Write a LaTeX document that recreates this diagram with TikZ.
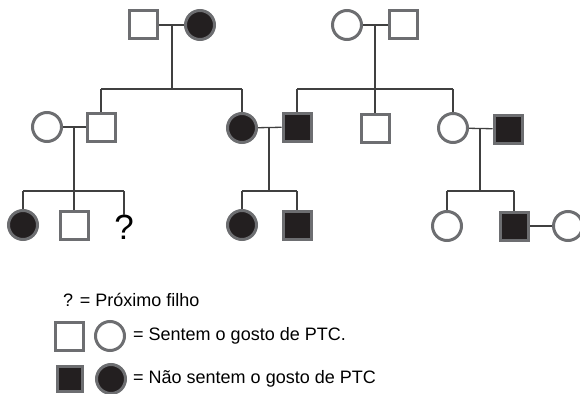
\documentclass[tikz,border=0pt]{standalone}
\usepackage{fontspec}
\setmainfont{Liberation Sans}
\definecolor{edge}{HTML}{6D6E71}
\definecolor{ink}{HTML}{231F20}
\definecolor{wire}{HTML}{404040}
\tikzset{
  male/.style={rectangle, draw=edge, line width=3pt, minimum size=28pt, inner sep=0pt, fill=white},
  female/.style={circle, draw=edge, line width=3pt, minimum size=29pt, inner sep=0pt, fill=white},
  aff/.style={fill=ink},
  wireline/.style={draw=wire, line width=1.3pt},
  lbl/.style={anchor=west, inner sep=0pt, font=\fontsize{18}{20}\selectfont}
}
\begin{document}
\begin{tikzpicture}[x=1pt,y=-1pt]
\useasboundingbox (0,0) rectangle (580,393);
% generation 1
\coordinate (m1) at (172,25);
\coordinate (s1) at (172,89);
\coordinate (m2) at (375,25);
\coordinate (s2) at (375,89);
% generation 2 couples
\coordinate (m3) at (74,127);
\coordinate (s3) at (74,191);
\coordinate (m4) at (269,127);
\coordinate (s4) at (269,191);
\coordinate (m5) at (480,128);
\coordinate (s5) at (480,191);
\coordinate (k1) at (101,89);
\coordinate (k2) at (242,89);
\coordinate (k3) at (297,89);
\coordinate (k4) at (453,89);
\coordinate (c1) at (23,191);
\coordinate (c3) at (124,191);
\coordinate (c4) at (242,191);
\coordinate (c5) at (297,191);
\coordinate (c6) at (447,191);
\coordinate (c7) at (514,191);

% connectors
\draw[wireline] (m1) -- (s1);
\draw[wireline] (k1) -- (k2);
\draw[wireline] (m2) -- (s2);
\draw[wireline] (k3) -- (k4);
\draw[wireline] (m3) -- (s3);
\draw[wireline] (c1) -- (c3);
\draw[wireline] (m4) -- (s4);
\draw[wireline] (c4) -- (c5);
\draw[wireline] (m5) -- (s5);
\draw[wireline] (c6) -- (c7);

% generation 1 nodes
\node[male] (a1) at (143,25) {};
\node[female,aff] (a2) at (200,25) {};
\node[female] (b1) at (347,25) {};
\node[male] (b2) at (403,25) {};
% generation 2
\node[female] (g1) at (47,127) {};
\node[male] (g2) at (101,127) {};
\node[female,aff] (g3) at (242,128) {};
\node[male,aff] (g4) at (297,127) {};
\node[male] (g5) at (375,128) {};
\node[female] (g6) at (453,128) {};
\node[male,aff] (g7) at (508,129) {};
% generation 3
\node[female,aff] (h1) at (23,225) {};
\node[male] (h2) at (74,225) {};
\node[inner sep=0pt, font=\fontsize{35}{35}\selectfont] (h3) at (124,227) {?};
\node[female,aff] (h4) at (242,225) {};
\node[male,aff] (h5) at (297,225) {};
\node[female] (h6) at (447,226) {};
\node[male,aff] (h7) at (514,226) {};
\node[female] (h8) at (568,226) {};

% marriage and descent lines
\draw[wireline] (a1) -- (a2);
\draw[wireline] (b1) -- (b2);
\draw[wireline] (g1) -- (g2);
\draw[wireline] (g3) -- (g4);
\draw[wireline] (g6) -- (g7);
\draw[wireline] (h7) -- (h8);
\draw[wireline] (k1) -- (g2);
\draw[wireline] (k2) -- (g3);
\draw[wireline] (k3) -- (g4);
\draw[wireline] (s2) -- (g5);
\draw[wireline] (k4) -- (g6);
\draw[wireline] (c1) -- (h1);
\draw[wireline] (s3) -- (h2);
\draw[wireline] (c3) -- (h3);
\draw[wireline] (c4) -- (h4);
\draw[wireline] (c5) -- (h5);
\draw[wireline] (c6) -- (h6);
\draw[wireline] (c7) -- (h7);

% legend
\node[lbl] (l1) at (63,300) {? = Próximo filho};
\node[male] (l2) at (69,336) {};
\node[female] (l3) at (110,336) {};
\node[lbl] (l4) at (133,336) {= Sentem o gosto de PTC.};
\node[male,aff,minimum size=25pt] (l5) at (69.5,379) {};
\node[female,aff] (l6) at (111,379) {};
\node[lbl] (l7) at (133,379) {= Não sentem o gosto de PTC};
\end{tikzpicture}
\end{document}
